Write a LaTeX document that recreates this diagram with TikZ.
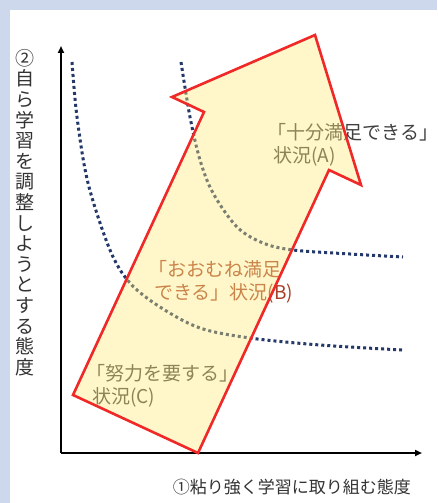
\documentclass[tikz,border=0pt]{standalone}
\usepackage{fontspec}
\setmainfont{Noto Sans CJK JP}
\usetikzlibrary{arrows.meta}
\definecolor{bgblue}{HTML}{CDD8EC}
\definecolor{navydot}{HTML}{24386A}
\definecolor{arrowred}{HTML}{F02828}
\definecolor{arrowfill}{HTML}{FFEB7A}
\definecolor{txtgray}{HTML}{404040}
\definecolor{txtb}{HTML}{A8402A}
\tikzset{
  axisline/.style={line width=1.8pt, black, -{Triangle[width=6pt,length=7pt]}},
  dotcurve/.style={navydot, line width=3pt, dash pattern=on 3pt off 3pt},
  bigarrow/.style={draw=arrowred, line width=2.6pt, line join=miter, fill=arrowfill, fill opacity=0.4},
  lbl/.style={font=\fontsize{19}{22.5}\selectfont, align=left, inner sep=0pt, anchor=west},
  axlbl/.style={font=\fontsize{17}{20}\selectfont, inner sep=0pt, text=txtgray!80!black}
}
\begin{document}
\begin{tikzpicture}[x=1pt,y=-1pt]
\useasboundingbox (0,0) rectangle (437,503);
\fill[bgblue] (0,0) rectangle (437,503);
\fill[white] (10,10) rectangle (437,503);
% axes
\coordinate (O) at (61,453);
\coordinate (ytop) at (61,46);
\coordinate (xend) at (422,453);
\draw[axisline] (O) -- (ytop);
\draw[axisline] (O) -- (xend);
% axis labels
\node[axlbl, anchor=north, align=center, font=\fontsize{19}{20.6}\selectfont] (ylabel) at (25,49)
  {②\\自\\ら\\学\\習\\を\\調\\整\\し\\よ\\う\\と\\す\\る\\態\\度};
\node[axlbl, anchor=east] (xlabel) at (411,487) {①粘り強く学習に取り組む態度};
% dotted curves
\draw[dotcurve] plot[smooth, tension=0.55] coordinates {(72,62) (77,117) (88,183) (110,250) (130,283) (160,307) (200,328) (250,338) (320,345) (402,350)};
\draw[dotcurve] plot[smooth, tension=0.55] coordinates {(181,62) (190,117) (200,160) (213,193) (237,227) (263,243) (293,250) (350,254) (403,257)};
% labels
\node[lbl, text=txtgray] (labA) at (273,145) {\kern-.3em「十分満足できる」\\状況(A)};
\node[lbl, text=txtb] (labB) at (154,282) {\kern-.3em「おおむね満足\\できる」状況(B)};
\node[lbl, text=txtgray] (labC) at (92,386) {\kern-.3em「努力を要する」\\状況(C)};
% big arrow
\draw[bigarrow] (315,35) -- (361,185) -- (329,170) -- (198,453) -- (73,395) -- (204,112) -- (172,97) -- cycle;
\end{tikzpicture}
\end{document}
